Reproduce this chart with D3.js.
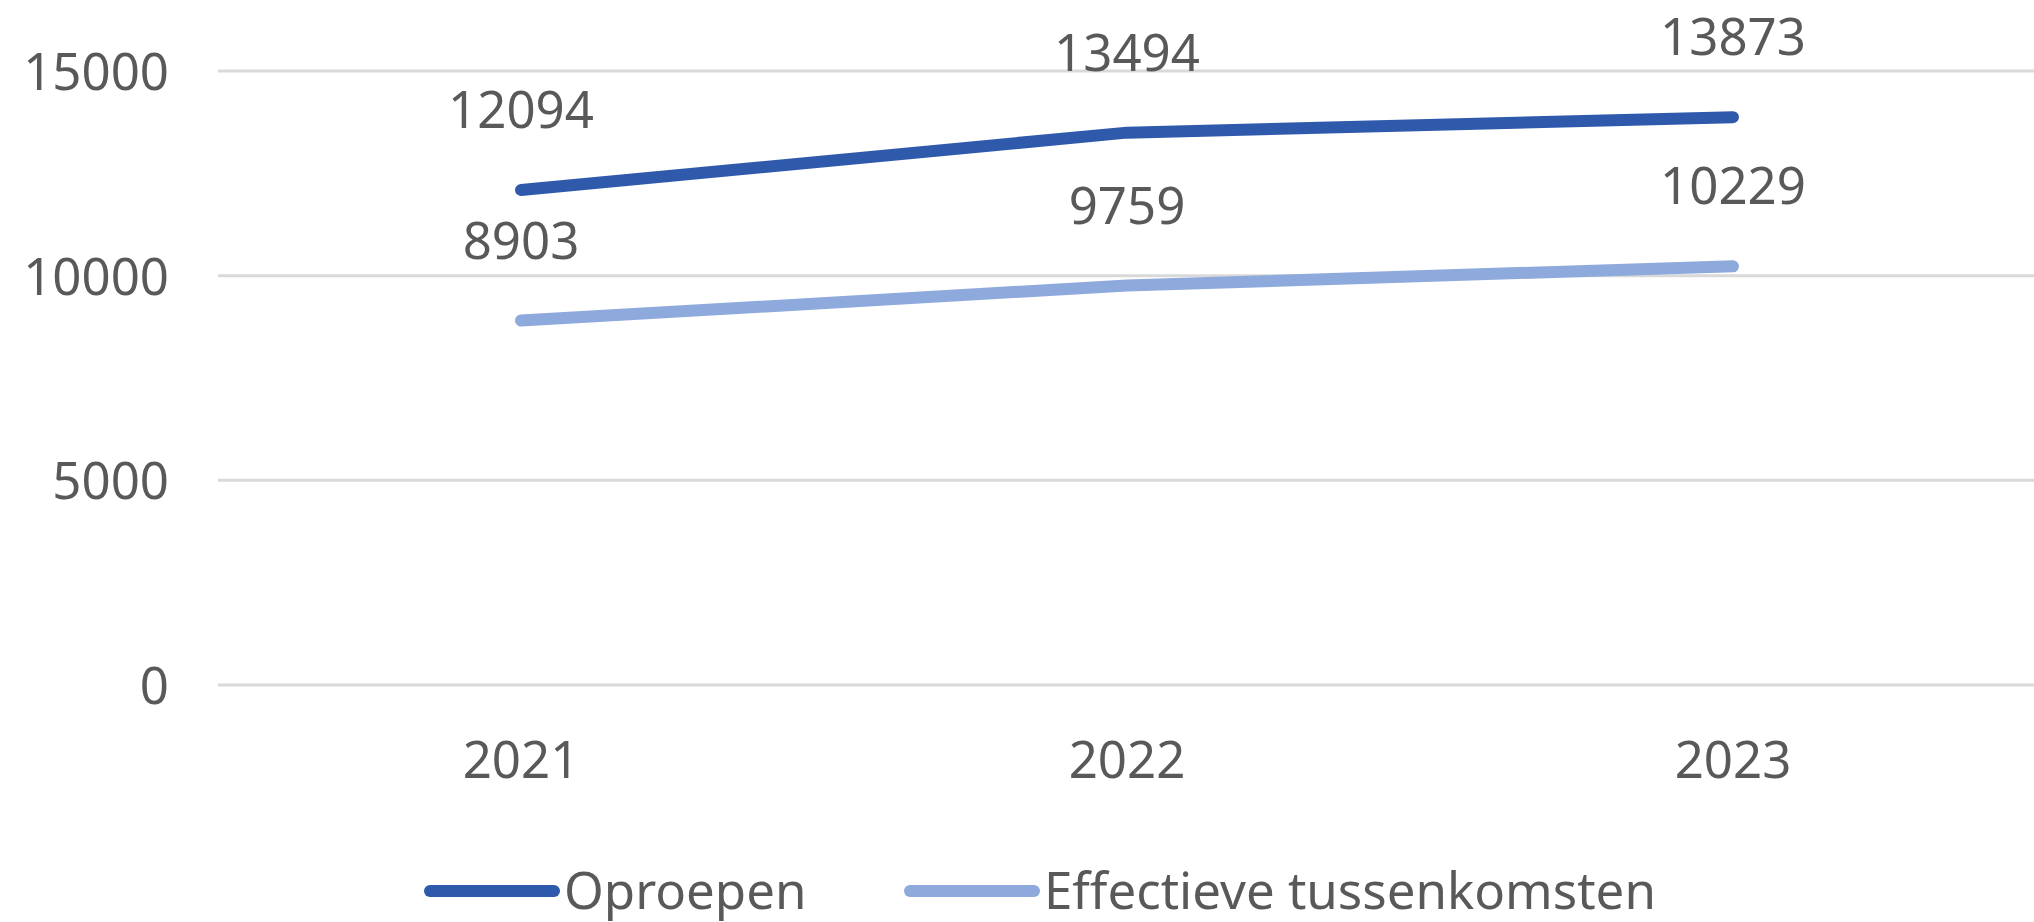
<!DOCTYPE html>
<html>
<head>
<meta charset="utf-8">
<script src="https://cdn.jsdelivr.net/npm/d3@7"></script>
<style>
  html, body { margin: 0; padding: 0; background: #fff; }
  svg text { font-family: 'Noto Sans', 'Open Sans', sans-serif; fill: #595959; }
</style>
</head>
<body>
<div class="chart"></div>
<script>
const width = 2034;
const height = 922;

const years = ['2021', '2022', '2023'];
const oproepen = [12094, 13494, 13873];
const tussenkomsten = [8903, 9759, 10229];
const yTicks = [0, 5000, 10000, 15000];
const seriesNames = ['Oproepen', 'Effectieve tussenkomsten'];
const seriesColors = ['#2f5aab', '#8ea9db'];

const series = [
  { name: seriesNames[0], color: seriesColors[0], values: oproepen },
  { name: seriesNames[1], color: seriesColors[1], values: tussenkomsten }
];

const svg = d3.select('.chart').append('svg')
  .attr('width', width)
  .attr('height', height);

const scaleX = d3.scaleBand()
  .domain(years)
  .range([218, 2036]);

const scaleY = d3.scaleLinear()
  .domain([0, 15000])
  .range([685, 71]);

// gridlines
svg.append('g').selectAll('line')
  .data(yTicks)
  .join('line')
  .attr('x1', 218)
  .attr('x2', width)
  .attr('y1', (d) => scaleY(d))
  .attr('y2', (d) => scaleY(d))
  .attr('stroke', '#d9d9d9')
  .attr('stroke-width', 3);

// y labels
svg.append('g').selectAll('text')
  .data(yTicks)
  .join('text')
  .attr('x', 169)
  .attr('y', (d) => scaleY(d) + 19)
  .attr('text-anchor', 'end')
  .attr('font-size', 51)
  .text((d) => d);

// x labels
svg.append('g').selectAll('text')
  .data(years)
  .join('text')
  .attr('x', (d) => scaleX(d) + scaleX.bandwidth() / 2)
  .attr('y', 778)
  .attr('text-anchor', 'middle')
  .attr('font-size', 51)
  .text((d) => d);

const line = d3.line()
  .x((d, i) => scaleX(years[i]) + scaleX.bandwidth() / 2)
  .y((d) => scaleY(d));

series.forEach((s) => {
  svg.append('path')
    .attr('d', line(s.values))
    .attr('fill', 'none')
    .attr('stroke', s.color)
    .attr('stroke-width', 12)
    .attr('stroke-linecap', 'round')
    .attr('stroke-linejoin', 'round');

  svg.append('g').selectAll('text')
    .data(s.values)
    .join('text')
    .attr('x', (d, i) => scaleX(years[i]) + scaleX.bandwidth() / 2)
    .attr('y', (d) => scaleY(d) - 62)
    .attr('text-anchor', 'middle')
    .attr('font-size', 51)
    .text((d) => d);
});

// legend
const legendX = [424, 904];
const legend = svg.append('g').selectAll('g')
  .data(series)
  .join('g')
  .attr('transform', (d, i) => 'translate(' + legendX[i] + ',891)');

legend.append('line')
  .attr('x1', 6)
  .attr('x2', 130)
  .attr('stroke', (d) => d.color)
  .attr('stroke-width', 12)
  .attr('stroke-linecap', 'round');

legend.append('text')
  .attr('x', 140)
  .attr('y', 18)
  .attr('font-size', 51)
  .text((d) => d.name);
</script>
</body>
</html>
